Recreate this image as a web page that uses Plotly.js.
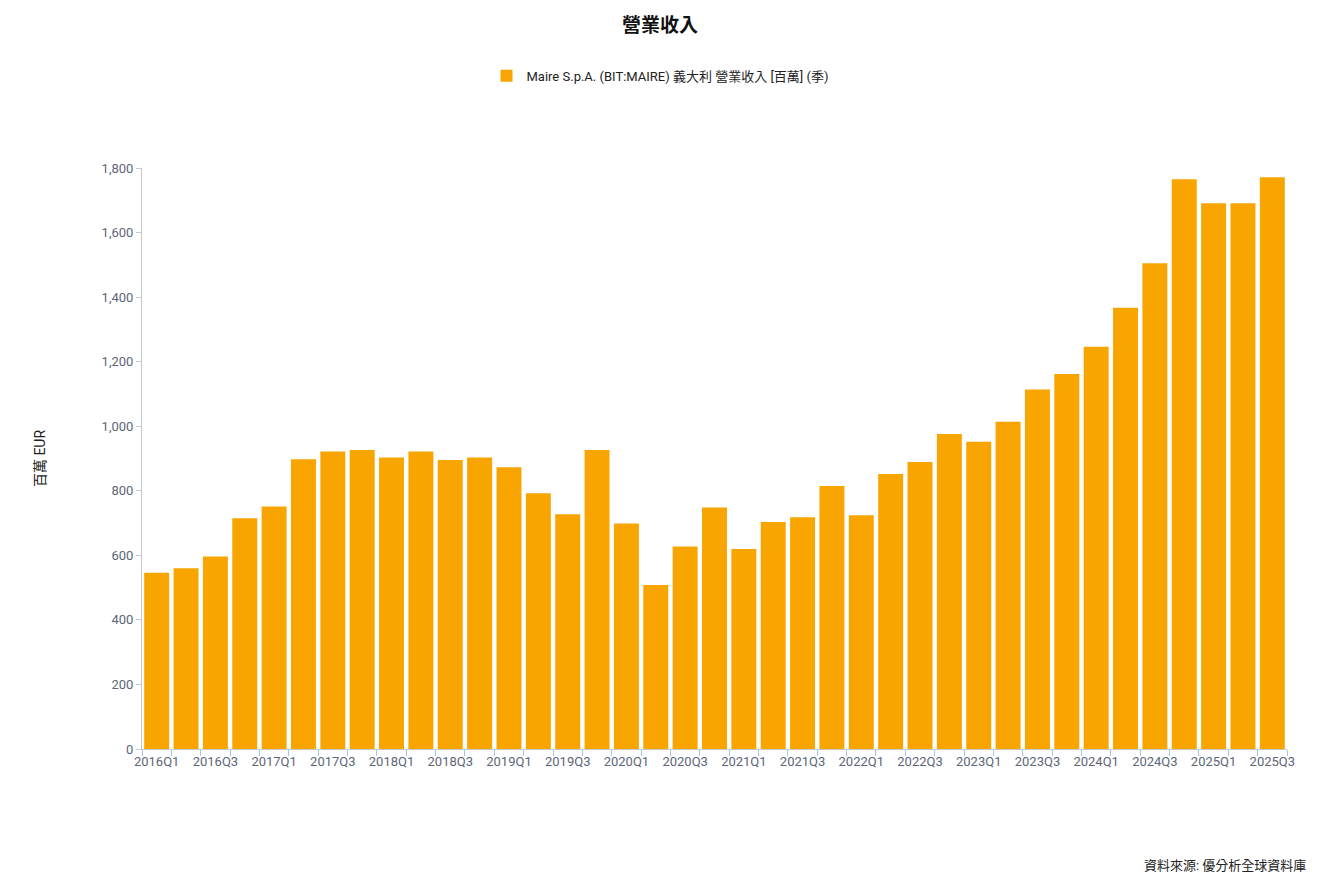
<!DOCTYPE html>
<html>
<head>
<meta charset="utf-8">
<script src="https://cdn.plot.ly/plotly-3.0.1.min.js"></script>
<style>
  html, body { margin: 0; padding: 0; background: #fff; }
  #graph { width: 1320px; height: 880px; }
</style>
</head>
<body>
<div id="graph"></div>
<script>
/* ----- chart data ----- */
var quarters = [
    '2016Q1', '2016Q2', '2016Q3', '2016Q4',
    '2017Q1', '2017Q2', '2017Q3', '2017Q4',
    '2018Q1', '2018Q2', '2018Q3', '2018Q4',
    '2019Q1', '2019Q2', '2019Q3', '2019Q4',
    '2020Q1', '2020Q2', '2020Q3', '2020Q4',
    '2021Q1', '2021Q2', '2021Q3', '2021Q4',
    '2022Q1', '2022Q2', '2022Q3', '2022Q4',
    '2023Q1', '2023Q2', '2023Q3', '2023Q4',
    '2024Q1', '2024Q2', '2024Q3', '2024Q4',
    '2025Q1', '2025Q2', '2025Q3'
];
// revenue, millions EUR
var revenue = [
    546, 560, 596, 715,
    751, 898, 922, 926,
    903, 922, 895, 903,
    873, 792, 727, 926,
    699, 508, 627, 748,
    620, 703, 718, 815,
    724, 852, 889, 976,
    952, 1014, 1114, 1162,
    1246, 1367, 1505, 1765,
    1691, 1691, 1771
];
var seriesName = 'Maire S.p.A. (BIT:MAIRE) 義大利 營業收入 [百萬] (季)';
var chartTitle = '營業收入';
var yTitle = '百萬 EUR';
var sourceText = '資料來源: 優分析全球資料庫';

// label every second quarter, tick mark on every boundary
var tickText = quarters.map(function(q, i) { return i % 2 === 0 ? q : ''; });

var FONT = 'Roboto, "Noto Sans CJK TC", sans-serif';
var TICK_COLOR = '#5d6679';

var bars = {
    type: 'bar',
    x: quarters,
    y: revenue,
    name: seriesName,
    marker: {color: '#f8a502'},
    hoverinfo: 'none'
};

var layout = {
    width: 1320,
    height: 880,
    paper_bgcolor: '#ffffff',
    plot_bgcolor: '#ffffff',
    font: {family: FONT, color: '#222', size: 12},
    title: {
        text: '<b>' + chartTitle + '</b>',
        x: 0.5,
        xanchor: 'center',
        y: 0.971,
        yanchor: 'middle',
        font: {family: FONT, size: 19, color: '#111'}
    },
    showlegend: true,
    legend: {
        orientation: 'h',
        xref: 'container',
        yref: 'container',
        x: 0.5,
        xanchor: 'center',
        y: 0.914,
        yanchor: 'middle',
        font: {family: FONT, size: 13, color: '#222'}
    },
    bargap: 0.15,
    margin: {l: 142, r: 33, t: 168, b: 131},
    xaxis: {
        type: 'category',
        range: [-0.5, quarters.length - 0.5],
        tickmode: 'array',
        tickvals: quarters,
        ticktext: tickText,
        tickangle: 0,
        tickson: 'boundaries',
        ticks: 'outside',
        ticklen: 6,
        tickcolor: '#a9c3e3',
        showline: true,
        linecolor: '#c5c9d0',
        showgrid: false,
        zeroline: false,
        tickfont: {family: FONT, size: 13, color: TICK_COLOR}
    },
    yaxis: {
        range: [0, 1800],
        dtick: 200,
        tickformat: ',d',
        ticks: 'outside',
        ticklen: 5,
        tickcolor: '#c5c9d0',
        showline: true,
        linecolor: '#c5c9d0',
        showgrid: false,
        zeroline: false,
        tickfont: {family: FONT, size: 13, color: TICK_COLOR},
        title: {
            text: yTitle,
            standoff: 52,
            font: {family: FONT, size: 14, color: '#222'}
        }
    },
    annotations: [{
        text: sourceText,
        xref: 'paper',
        yref: 'paper',
        x: 1.018,
        xanchor: 'right',
        y: -0.2,
        yanchor: 'middle',
        showarrow: false,
        font: {family: FONT, size: 13, color: '#222'}
    }]
};

var graph = document.getElementById('graph');
Plotly.newPlot(graph, [bars], layout, {staticPlot: true});
</script>
</body>
</html>
